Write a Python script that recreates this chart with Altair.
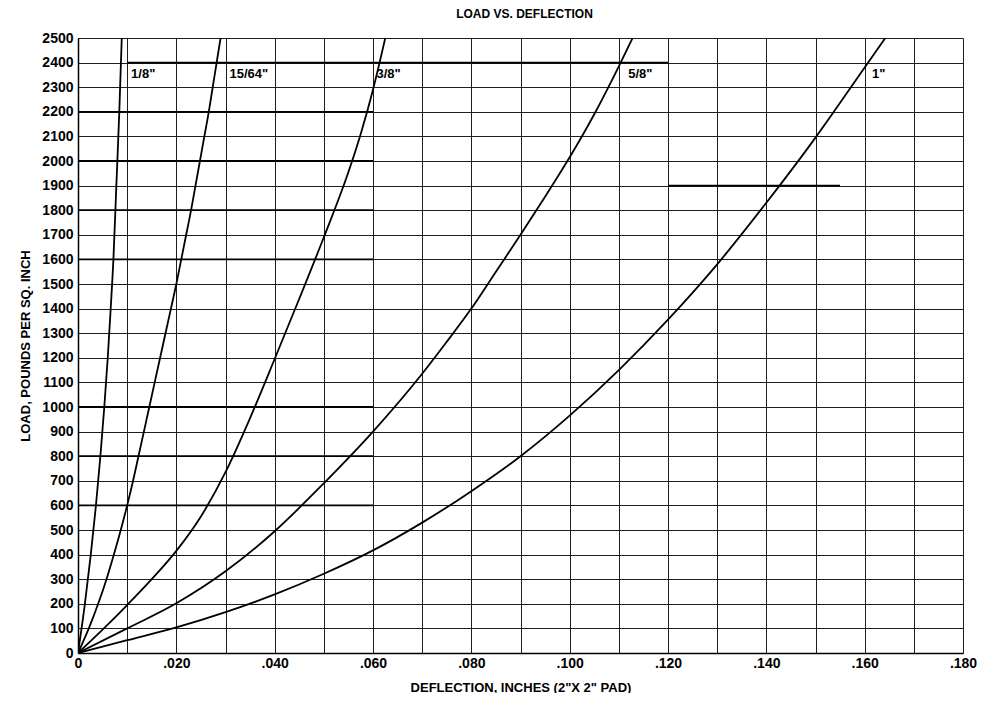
import altair as alt
import pandas as pd

# ---- axis ticks ----
X_TICKS = [0.00, 0.01, 0.02, 0.03, 0.04, 0.05, 0.06, 0.07, 0.08, 0.09,
           0.10, 0.11, 0.12, 0.13, 0.14, 0.15, 0.16, 0.17, 0.18]
Y_TICKS = [0, 100, 200, 300, 400, 500, 600, 700, 800, 900, 1000, 1100, 1200,
           1300, 1400, 1500, 1600, 1700, 1800, 1900, 2000, 2100, 2200, 2300,
           2400, 2500]

# ---- curves (deflection in inches, load in psi) ----
P18_X = [0, 0.0014, 0.0026, 0.00365, 0.00455, 0.00535, 0.00605, 0.00665,
         0.0072, 0.0078, 0.0084, 0.0089]
P18_Y = [0, 200, 400, 600, 800, 1000, 1200, 1400,
         1600, 1900, 2200, 2500]

P1564_X = [0, 0.0022, 0.0041, 0.0058, 0.0073, 0.0087, 0.0100, 0.0112, 0.0123,
           0.0134, 0.0145, 0.0156, 0.0167, 0.0178, 0.0189, 0.0200, 0.0210,
           0.0220, 0.0230, 0.0239, 0.0248, 0.0257, 0.0266, 0.0274, 0.0282,
           0.0290]
P1564_Y = [0, 100, 200, 300, 400, 500, 600, 700, 800,
           900, 1000, 1100, 1200, 1300, 1400, 1500, 1600,
           1700, 1800, 1900, 2000, 2100, 2200, 2300, 2400,
           2500]

P38_X = [0, 0.005, 0.010, 0.015, 0.020, 0.025, 0.030, 0.035, 0.040, 0.045,
         0.050, 0.055, 0.0575, 0.060, 0.0625]
P38_Y = [0, 95, 195, 300, 415, 555, 735, 955, 1195, 1440,
         1690, 1955, 2110, 2290, 2500]

P58_X = [0, 0.010, 0.020, 0.030, 0.040, 0.050, 0.060, 0.070, 0.075, 0.080,
         0.085, 0.090, 0.095, 0.100, 0.105, 0.110, 0.1128]
P58_Y = [0, 100, 202, 332, 495, 690, 900, 1135, 1265, 1400,
         1550, 1700, 1855, 2015, 2190, 2385, 2500]

P1_X = [0, 0.010, 0.020, 0.030, 0.040, 0.050, 0.060, 0.070, 0.080, 0.090,
        0.100, 0.110, 0.120, 0.130, 0.140, 0.150, 0.160, 0.1642]
P1_Y = [0, 52, 104, 166, 238, 322, 417, 530, 658, 800,
        965, 1150, 1355, 1580, 1830, 2095, 2380, 2500]

SIZES = ['1/8"', '15/64"', '3/8"', '5/8"', '1"']
CURVES_X = [P18_X, P1564_X, P38_X, P58_X, P1_X]
CURVES_Y = [P18_Y, P1564_Y, P38_Y, P58_Y, P1_Y]

# curve labels
LABEL_X = [0.0108, 0.0308, 0.0607, 0.1119, 0.1615]
LABEL_Y = [2355, 2355, 2355, 2355, 2355]

# darker grid segments seen on the sheet
HEAVY_Y = [2400, 2200, 2000, 1800, 1600, 1000, 800, 600, 1900]
HEAVY_X1 = [0.010, 0.0, 0.0, 0.0, 0.0, 0.0, 0.0, 0.0, 0.120]
HEAVY_X2 = [0.120, 0.060, 0.060, 0.060, 0.060, 0.060, 0.060, 0.060, 0.155]

rows = []
for name, xs, ys in zip(SIZES, CURVES_X, CURVES_Y):
    for i, (xv, yv) in enumerate(zip(xs, ys)):
        rows.append({"pad": name, "defl": xv, "load": yv, "ord": i})
curves = pd.DataFrame(rows)
labels = pd.DataFrame({"pad": SIZES, "defl": LABEL_X, "load": LABEL_Y})
heavy = pd.DataFrame({"y": HEAVY_Y, "x1": HEAVY_X1, "x2": HEAVY_X2})

FONT = "Liberation Sans"

xscale = alt.Scale(domain=[0, 0.18], nice=False, zero=True)
yscale = alt.Scale(domain=[0, 2500], nice=False)

xaxis = alt.Axis(
    values=X_TICKS,
    labelExpr="datum.value == 0 ? '0' : (round(datum.value*100) % 2 == 0 ? substring(format(datum.value, '.3f'), 1) : '')",
    title='DEFLECTION, INCHES (2"X 2" PAD)',
    titleFont=FONT, titleFontSize=13, titleFontWeight="bold", titleColor="black",
    titlePadding=11,
    labelFont=FONT, labelFontSize=14, labelFontWeight="bold", labelColor="black",
    labelPadding=3, labelOverlap=False, labelFlush=False,
    ticks=False, grid=True, gridColor="#1e1e1e", gridWidth=1, gridOpacity=1,
    domainColor="black", domainWidth=1.5,
)
yaxis = alt.Axis(
    values=Y_TICKS,
    format="d",
    title="LOAD, POUNDS PER SQ. INCH",
    titleFont=FONT, titleFontSize=13, titleFontWeight="bold", titleColor="black",
    titlePadding=9,
    labelFont=FONT, labelFontSize=14, labelFontWeight="bold", labelColor="black",
    labelPadding=5, labelOverlap=False, labelFlush=False,
    ticks=False, grid=True, gridColor="#1e1e1e", gridWidth=1, gridOpacity=1,
    domainColor="black", domainWidth=1.5,
)

heavy_layer = alt.Chart(heavy).mark_rule(color="black", strokeWidth=1.8).encode(
    x=alt.X("x1:Q", scale=xscale, axis=xaxis),
    x2="x2:Q",
    y=alt.Y("y:Q", scale=yscale, axis=yaxis),
)

lines = alt.Chart(curves).mark_line(
    color="black", strokeWidth=1.8, interpolate="monotone", clip=True
).encode(
    x=alt.X("defl:Q", scale=xscale, axis=xaxis),
    y=alt.Y("load:Q", scale=yscale, axis=yaxis),
    detail="pad:N",
    order="ord:Q",
)

texts = alt.Chart(labels).mark_text(
    align="left", baseline="middle", font=FONT, fontSize=13,
    fontWeight="bold", color="black"
).encode(
    x=alt.X("defl:Q", scale=xscale, axis=xaxis),
    y=alt.Y("load:Q", scale=yscale, axis=yaxis),
    text="pad:N",
)

chart = alt.layer(heavy_layer, lines, texts).properties(
    width=885,
    height=615,
    autosize=alt.AutoSizeParams(type="none"),
    padding={"left": 70, "top": 30, "right": 20, "bottom": 40},
    title=alt.Title("LOAD VS. DEFLECTION", font=FONT, fontSize=12,
                    fontWeight="bold", color="black", anchor="middle",
                    dx=4, offset=10),
).configure_view(stroke="black", strokeWidth=1.5).configure(background="white")

chart.save("out.html", embed_options={"renderer": "svg", "actions": False})
